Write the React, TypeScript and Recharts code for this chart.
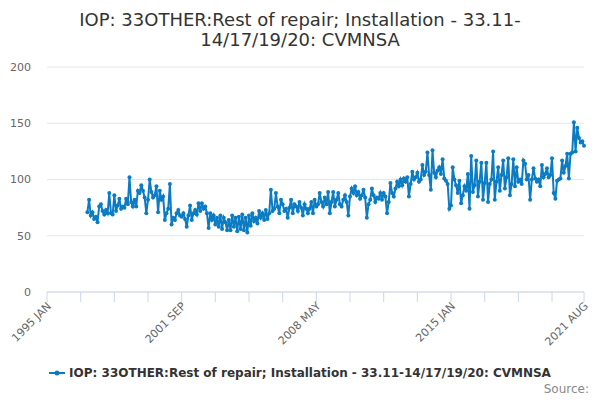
import { LineChart, Line, XAxis, YAxis, CartesianGrid } from 'recharts';

const COLOR = '#0b7cc4';
const FONT = '"DejaVu Sans", sans-serif';

const MONTHS = ['JAN', 'FEB', 'MAR', 'APR', 'MAY', 'JUN', 'JUL', 'AUG', 'SEP', 'OCT', 'NOV', 'DEC'];
const FIRST_YEAR = 1995;
const LAST_INDEX = 319; // 2021 AUG
const DATA_START = 24; // series begins 1997 JAN

// monthly values
const v1997 = [71, 82, 68, 71, 65, 67, 62, 76, 78, 72, 69, 73];
const v1998 = [70, 88, 70, 69, 86, 72, 77, 83, 74, 76, 75, 83];
const v1999 = [78, 102, 80, 76, 82, 76, 90, 88, 95, 90, 84, 70];
const v2000 = [82, 100, 89, 84, 86, 94, 71, 90, 82, 85, 64, 70];
const v2001 = [74, 96, 60, 66, 64, 70, 73, 68, 67, 70, 65, 58];
const v2002 = [68, 77, 64, 70, 73, 69, 79, 72, 79, 74, 76, 70];
const v2003 = [57, 70, 64, 68, 60, 66, 58, 68, 56, 66, 62, 55];
const v2004 = [64, 55, 68, 58, 66, 54, 67, 56, 69, 55, 66, 53];
const v2005 = [68, 59, 70, 63, 66, 61, 72, 66, 70, 64, 73, 65];
const v2006 = [70, 91, 72, 74, 88, 76, 70, 82, 78, 72, 74, 66];
const v2007 = [75, 82, 70, 78, 76, 72, 80, 75, 68, 78, 74, 70];
const v2008 = [74, 80, 70, 82, 76, 78, 88, 80, 76, 84, 78, 89];
const v2009 = [70, 80, 89, 76, 82, 88, 78, 76, 82, 86, 80, 68];
const v2010 = [85, 92, 88, 94, 86, 89, 83, 86, 91, 84, 66, 78];
const v2011 = [82, 92, 86, 80, 84, 83, 88, 82, 88, 85, 70, 80];
const v2012 = [97, 88, 85, 92, 98, 94, 100, 95, 101, 98, 102, 85];
const v2013 = [96, 107, 100, 102, 106, 98, 100, 113, 104, 107, 124, 104];
const v2014 = [91, 126, 106, 102, 108, 111, 105, 118, 101, 99, 96, 74];
const v2015 = [77, 111, 100, 95, 88, 99, 79, 86, 94, 90, 105, 74];
const v2016 = [121, 89, 95, 117, 85, 98, 115, 82, 97, 115, 80, 96];
const v2017 = [100, 125, 82, 98, 111, 90, 104, 117, 92, 102, 119, 86];
const v2018 = [96, 118, 94, 111, 98, 100, 96, 117, 114, 100, 104, 82];
const v2019 = [100, 110, 101, 98, 100, 94, 113, 102, 105, 110, 102, 104];
const v2020 = [119, 88, 83, 99, 100, 101, 117, 106, 112, 123, 101, 123];
const v2021 = [124, 151, 125, 146, 137, 133, 134, 130];

const VALUES = [
  ...v1997, ...v1998, ...v1999, ...v2000, ...v2001, ...v2002, ...v2003,
  ...v2004, ...v2005, ...v2006, ...v2007, ...v2008, ...v2009, ...v2010,
  ...v2011, ...v2012, ...v2013, ...v2014, ...v2015, ...v2016, ...v2017,
  ...v2018, ...v2019, ...v2020, ...v2021,
];

const X_TICKS = [0, 20, 40, 60, 80, 100, 120, 140, 160, 180, 200, 220, 240, 260, 280, 300, 319];
const X_LABELLED = [0, 80, 160, 240, 319];
const Y_TICKS = [0, 50, 100, 150, 200];

const TITLE_1 = 'IOP: 33OTHER:Rest of repair; Installation - 33.11-';
const TITLE_2 = '14/17/19/20: CVMNSA';
const SERIES_NAME = 'IOP: 33OTHER:Rest of repair; Installation - 33.11-14/17/19/20: CVMNSA';

const monthLabel = (i: number) => `${FIRST_YEAR + Math.floor(i / 12)} ${MONTHS[i % 12]}`;

const data = Array.from({ length: LAST_INDEX + 1 }, (_, i) => ({
  i,
  label: monthLabel(i),
  value: i >= DATA_START ? VALUES[i - DATA_START] : null,
}));

// rotated date label, only on every fourth tick
const DateTick = ({ x, y, payload }: any) => {
  if (!X_LABELLED.includes(payload.value)) return null;
  return (
    <text
      x={x + 2}
      y={y}
      dy={4}
      transform={`rotate(-45 ${x + 2} ${y})`}
      textAnchor="end"
      fill="#666"
      fontSize={11}
    >
      {monthLabel(payload.value)}
    </text>
  );
};

export default function App() {
  return (
    <div style={{ position: 'relative', width: 600, height: 400, fontFamily: FONT, background: '#fff' }}>
      <style>{'body{margin:0}'}</style>
      <div
        style={{
          position: 'absolute',
          top: 10,
          left: 0,
          width: 600,
          textAlign: 'center',
          fontSize: 18,
          lineHeight: '20px',
          color: '#333',
        }}
      >
        <div>{TITLE_1}</div>
        <div>{TITLE_2}</div>
      </div>
      <LineChart
        width={600}
        height={400}
        data={data}
        margin={{ top: 67, right: 16, bottom: 48, left: 0 }}
      >
        <CartesianGrid vertical={false} stroke="#e6e6e6" />
        <XAxis
          dataKey="i"
          type="number"
          domain={[0, LAST_INDEX]}
          ticks={X_TICKS}
          interval={0}
          height={60}
          tickSize={10}
          stroke="#ccd6eb"
          tick={<DateTick />}
        />
        <YAxis
          domain={[0, 200]}
          ticks={Y_TICKS}
          width={47}
          axisLine={false}
          tickLine={false}
          tickMargin={10}
          tick={{ fill: '#666', fontSize: 11 }}
        />
        <Line
          type="linear"
          dataKey="value"
          stroke={COLOR}
          strokeWidth={2}
          dot={{ r: 2, fill: COLOR, stroke: COLOR, strokeWidth: 0 }}
          activeDot={false}
          isAnimationActive={false}
        />
      </LineChart>
      <div
        style={{
          position: 'absolute',
          top: 366,
          left: 0,
          width: 600,
          display: 'flex',
          justifyContent: 'center',
          alignItems: 'center',
          fontSize: 12,
          fontWeight: 'bold',
          color: '#333',
        }}
      >
        <svg width={16} height={12} style={{ marginRight: 4 }}>
          <line x1={0} y1={6} x2={16} y2={6} stroke={COLOR} strokeWidth={2} />
          <circle cx={8} cy={6} r={2.5} fill={COLOR} />
        </svg>
        <span>{SERIES_NAME}</span>
      </div>
      <div style={{ position: 'absolute', top: 382, right: 11, fontSize: 12, color: '#888' }}>Source:</div>
    </div>
  );
}
